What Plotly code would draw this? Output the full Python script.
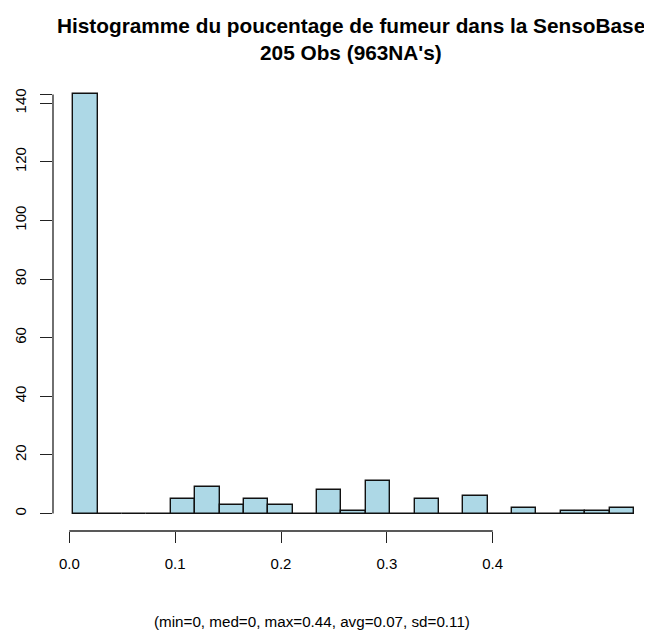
import numpy as np
import plotly.graph_objects as go

# ---- data ----
bin_edges = [round(0.02 * i, 2) for i in range(24)]  # 0.00 .. 0.46
counts = [143, 0, 0, 0, 5, 9, 3, 5, 3, 0, 8, 1, 11, 0, 5, 0, 6, 0, 2, 0, 1, 1, 2]
x_tick_vals = [0.0, 0.1, 0.2, 0.3, 0.4]
x_tick_text = ["0.0", "0.1", "0.2", "0.3", "0.4"]
y_tick_vals = [0, 20, 40, 60, 80, 100, 120, 140]
title_line1 = "Histogramme du poucentage de fumeur dans la SensoBase"
title_line2 = "205 Obs (963NA's)"
subtitle = "(min=0, med=0, max=0.44, avg=0.07, sd=0.11)"

centers = [(bin_edges[i] + bin_edges[i + 1]) / 2 for i in range(len(counts))]
widths = [bin_edges[i + 1] - bin_edges[i] for i in range(len(counts))]

FONT = "Liberation Sans, Arial, sans-serif"

fig = go.Figure()
fig.add_trace(go.Bar(
    x=centers, y=counts, width=widths,
    marker=dict(color="#ADD8E6", line=dict(color="#111111", width=1.4)),
    hoverinfo="x+y", showlegend=False,
))
# empty trace on the labelled axis so it is rendered
fig.add_trace(go.Scatter(x=[], y=[], xaxis="x2", yaxis="y", showlegend=False))

ymax_tick = max(counts)

fig.update_layout(
    width=644, height=624,
    margin=dict(l=45, r=0, t=70, b=101, autoexpand=False),
    paper_bgcolor="white", plot_bgcolor="white",
    font=dict(family=FONT, color="black", size=15),
    bargap=0,
    xaxis=dict(range=[-0.01665, 0.4748], showticklabels=False, ticks="",
               showline=False, showgrid=False, zeroline=False, fixedrange=True,
               automargin=False),
    xaxis2=dict(range=[-0.0154, 0.5505], overlaying="x", anchor="y", side="bottom",
                tickvals=x_tick_vals, ticktext=x_tick_text, ticks="outside",
                ticklen=11, tickwidth=1.3, tickcolor="#222222",
                ticklabelstandoff=8, automargin=False,
                tickfont=dict(size=15, family=FONT, color="black"),
                showline=False, showgrid=False, zeroline=False),
    yaxis=dict(range=[-5.97, 148.6],
               tickvals=y_tick_vals + [ymax_tick],
               ticktext=[str(v) for v in y_tick_vals] + [""],
               ticks="outside", ticklen=12, tickwidth=1.3, tickcolor="#222222",
               tickangle=-90, ticklabelstandoff=8, automargin=False,
               tickfont=dict(size=15, family=FONT, color="black"),
               showline=False, showgrid=False, zeroline=False),
    shapes=[
        dict(type="line", xref="paper", yref="y", x0=0, x1=0, y0=0, y1=ymax_tick,
             line=dict(color="#222222", width=1.3)),
        dict(type="line", xref="x2", yref="paper", x0=x_tick_vals[0], x1=x_tick_vals[-1],
             y0=0, y1=0, line=dict(color="#222222", width=1.3)),
    ],
    annotations=[
        dict(text="<b>" + title_line1 + "</b>", xref="paper", yref="paper",
             x=0.4975, y=1.1156, xanchor="center", yanchor="middle", showarrow=False,
             font=dict(size=20.8, family=FONT, color="black")),
        dict(text="<b>" + title_line2 + "</b>", xref="paper", yref="paper",
             x=0.4975, y=1.0573, xanchor="center", yanchor="middle", showarrow=False,
             font=dict(size=20.8, family=FONT, color="black")),
        dict(text=subtitle, xref="paper", yref="paper",
             x=0.432, y=-0.2004, xanchor="center", yanchor="middle", showarrow=False,
             font=dict(size=15.2, family=FONT, color="black")),
    ],
)

fig.write_html("out.html")
